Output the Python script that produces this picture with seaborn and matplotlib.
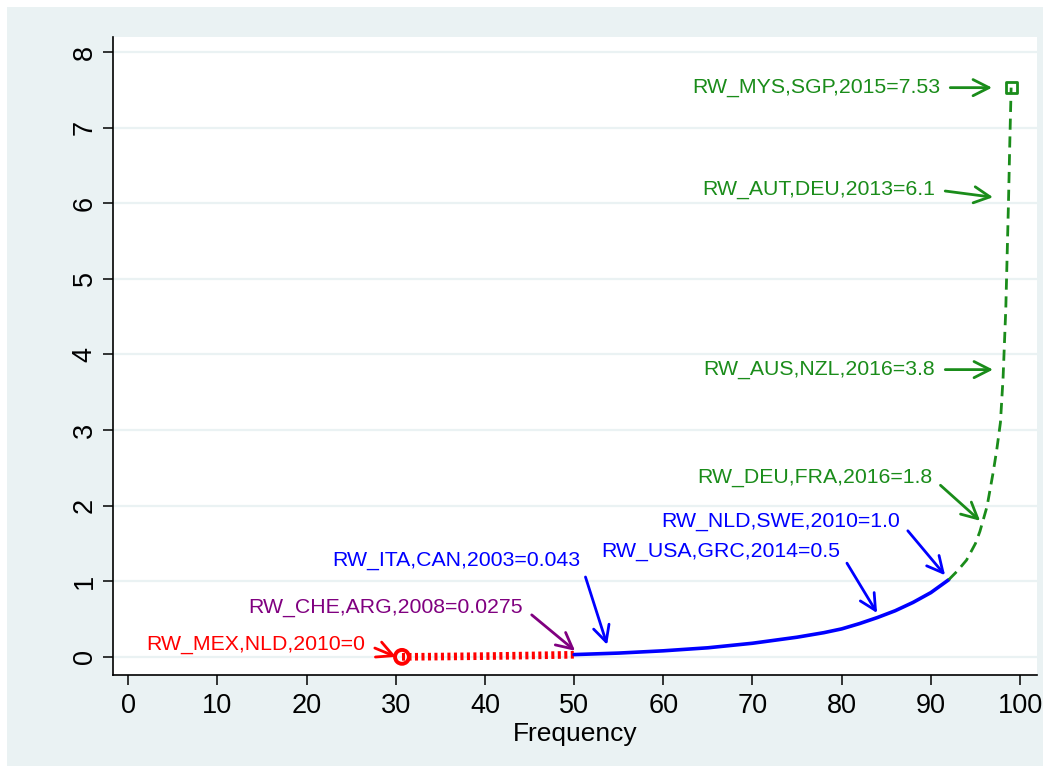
import matplotlib
matplotlib.use("Agg")
import matplotlib.pyplot as plt
import seaborn as sns
import pandas as pd
from matplotlib.patches import Rectangle

# ---- data ----
red_x = [30.7, 35, 40, 45, 50]
red_y = [0.0, 0.004, 0.01, 0.018, 0.0275]

blue_x = [50, 55, 60, 65, 70, 75, 78, 80, 82, 84, 86, 88, 90, 92]
blue_y = [0.03, 0.05, 0.08, 0.12, 0.18, 0.26, 0.32, 0.37, 0.44, 0.52, 0.61, 0.72, 0.85, 1.02]

green_x = [92, 93, 94, 95, 95.5, 96.3, 97, 97.4, 97.8, 98.1, 98.4, 98.7, 98.85, 99]
green_y = [1.02, 1.14, 1.28, 1.50, 1.66, 1.99, 2.45, 2.75, 3.10, 3.70, 4.60, 6.00, 6.80, 7.53]

x_ticks = [0, 10, 20, 30, 40, 50, 60, 70, 80, 90, 100]
y_ticks = [0, 1, 2, 3, 4, 5, 6, 7, 8]
x_label = "Frequency"

ann_labels = ["RW_MYS,SGP,2015=7.53", "RW_AUT,DEU,2013=6.1", "RW_AUS,NZL,2016=3.8",
              "RW_DEU,FRA,2016=1.8", "RW_NLD,SWE,2010=1.0", "RW_USA,GRC,2014=0.5",
              "RW_ITA,CAN,2003=0.043", "RW_CHE,ARG,2008=0.0275", "RW_MEX,NLD,2010=0"]
ann_text_x = [91.03, 90.47, 90.47, 90.13, 86.55, 79.82, 50.67, 44.28, 26.57]
ann_text_y = [7.53, 6.18, 3.80, 2.37, 1.79, 1.39, 1.28, 0.65, 0.17]
ann_tip_x = [96.86, 96.97, 96.97, 95.52, 91.59, 83.97, 53.70, 50.11, 30.04]
ann_tip_y = [7.53, 6.08, 3.80, 1.80, 1.08, 0.58, 0.16, 0.08, 0.0]

GREEN = "#1A8C1A"
BLUE = "#0000FF"
RED = "#FF0000"
PURPLE = "#800080"
ann_colors = [GREEN, GREEN, GREEN, GREEN, BLUE, BLUE, BLUE, PURPLE, RED]

BG = "#EAF2F3"

sns.set_style("white")
plt.rcParams['font.family'] = ['Liberation Sans', 'DejaVu Sans']

fig = plt.figure(figsize=(10.5, 7.73), dpi=100, facecolor="white")
fig.patches.append(Rectangle((7 / 1050, 7 / 773), 1036 / 1050, 759 / 773,
                             transform=fig.transFigure, facecolor=BG,
                             edgecolor="none", zorder=-10))
ax = fig.add_axes([113 / 1050, (773 - 675) / 773, 924 / 1050, (675 - 37) / 773])
ax.set_facecolor("white")

red_df = pd.DataFrame({"x": red_x, "y": red_y})
blue_df = pd.DataFrame({"x": blue_x, "y": blue_y})
green_df = pd.DataFrame({"x": green_x, "y": green_y})

sns.lineplot(data=red_df, x="x", y="y", ax=ax, color=RED, lw=5.5,
             linestyle=(0, (0.4, 0.45)), sort=False, estimator=None, zorder=3)
sns.lineplot(data=blue_df, x="x", y="y", ax=ax, color=BLUE, lw=2.6,
             sort=False, estimator=None, zorder=3)
sns.lineplot(data=green_df, x="x", y="y", ax=ax, color=GREEN, lw=2.0,
             linestyle=(0, (4, 2.4)), sort=False, estimator=None, zorder=3)

sns.scatterplot(x=[red_x[0]], y=[red_y[0]], ax=ax, marker="o", s=100,
                facecolor="none", edgecolor=RED, linewidth=2.8, zorder=4)
sns.scatterplot(x=[green_x[-1]], y=[green_y[-1]], ax=ax, marker="s", s=64,
                facecolor="none", edgecolor=GREEN, linewidth=2.0, zorder=4)

for lab, tx, ty, px, py, c in zip(ann_labels, ann_text_x, ann_text_y,
                                  ann_tip_x, ann_tip_y, ann_colors):
    ax.annotate(lab, xy=(px, py), xytext=(tx, ty), ha="right", va="center",
                color=c, fontsize=15.3, zorder=5,
                arrowprops=dict(arrowstyle="->,head_length=0.75,head_width=0.38",
                                color=c, lw=2.0, relpos=(1, 0.5),
                                shrinkA=5, shrinkB=0))

ax.set_xlim(-1.7, 101.9)
ax.set_ylim(-0.24, 8.2)
ax.set_xticks(x_ticks)
ax.set_yticks(y_ticks)
ax.set_xticklabels([str(v) for v in x_ticks], fontsize=19.5)
ax.set_yticklabels([str(v) for v in y_ticks], fontsize=19.5, rotation=90, va="center")
ax.set_xlabel(x_label, fontsize=19, labelpad=2, color="black")
ax.set_ylabel("")

ax.grid(axis="y", color=BG, lw=1.6)
ax.grid(axis="x", visible=False)
ax.set_axisbelow(True)

for s in ["top", "right"]:
    ax.spines[s].set_visible(False)
for s in ["left", "bottom"]:
    ax.spines[s].set_color("black")
    ax.spines[s].set_linewidth(1.2)

ax.tick_params(axis="both", which="major", direction="out", length=7,
               width=1.1, color="black", labelcolor="black", bottom=True, left=True)
ax.tick_params(axis="x", pad=6)
ax.tick_params(axis="y", pad=4)

fig.savefig("out.png", dpi=100, facecolor="white")
